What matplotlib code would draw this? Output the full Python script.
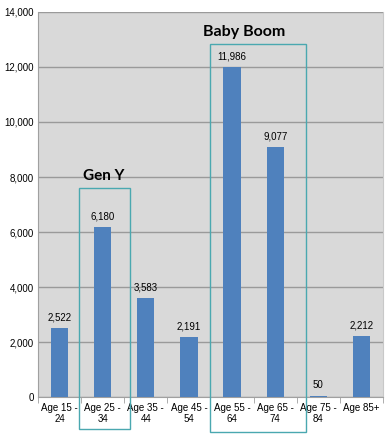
import matplotlib
matplotlib.use("Agg")
import matplotlib.pyplot as plt
from matplotlib.patches import Rectangle

plt.rcParams["font.family"] = ["Liberation Sans", "DejaVu Sans"]

# data
ages = ["Age 15 -\n24", "Age 25 -\n34", "Age 35 -\n44", "Age 45 -\n54",
        "Age 55 -\n64", "Age 65 -\n74", "Age 75 -\n84", "Age 85+"]
counts = [2522, 6180, 3583, 2191, 11986, 9077, 50, 2212]
yticks = [0, 2000, 4000, 6000, 8000, 10000, 12000, 14000]

fig = plt.figure(figsize=(3.88, 4.36), dpi=100)
ax = fig.add_axes([0.098, 0.0894, 0.889, 0.8831])
ax.set_facecolor("#d9d9d9")

x = range(len(ages))
ax.bar(x, counts, width=0.4, color="#4f81bd", zorder=3)
for i, v in zip(x, counts):
    ax.text(i, v + 200, f"{v:,}", ha="center", va="bottom", fontsize=7, zorder=4)

ax.set_xlim(-0.5, 7.5)
ax.set_ylim(0, 14000)
ax.set_yticks(yticks)
ax.set_yticklabels([f"{t:,}" for t in yticks], fontsize=7)
ax.yaxis.grid(True, color="#9a9a9a", linewidth=1, zorder=0)
ax.tick_params(axis="y", length=0, pad=3)

ax.set_xticks(x)
ax.set_xticklabels(ages, fontsize=7)
ax.set_xticks([i + 0.5 for i in range(-1, 8)], minor=True)
ax.tick_params(axis="x", which="major", length=0, pad=4)
ax.tick_params(axis="x", which="minor", length=4, color="#a0a0a0")

ax.spines["top"].set_visible(False)
ax.spines["right"].set_color("#c8c8c8")
ax.spines["left"].set_color("#a0a0a0")
ax.spines["bottom"].set_color("#a0a0a0")

# generation boxes
box_col = "#4aa8b0"
ax.add_patch(Rectangle((0.444, -1175), 1.196, 7611 + 1175, fill=False,
                       edgecolor=box_col, linewidth=1, clip_on=False, zorder=5))
ax.add_patch(Rectangle((3.495, -1284), 2.213, 12847 + 1284, fill=False,
                       edgecolor=box_col, linewidth=1, clip_on=False, zorder=5))
ax.text(1.03, 8050, "Gen Y", ha="center", va="center", fontsize=11,
        fontweight="bold", family=["Lato", "DejaVu Sans"])
ax.text(4.28, 13280, "Baby Boom", ha="center", va="center", fontsize=11.5,
        fontweight="bold", family=["Lato", "DejaVu Sans"])

fig.savefig("out.png", dpi=100, facecolor="white")
